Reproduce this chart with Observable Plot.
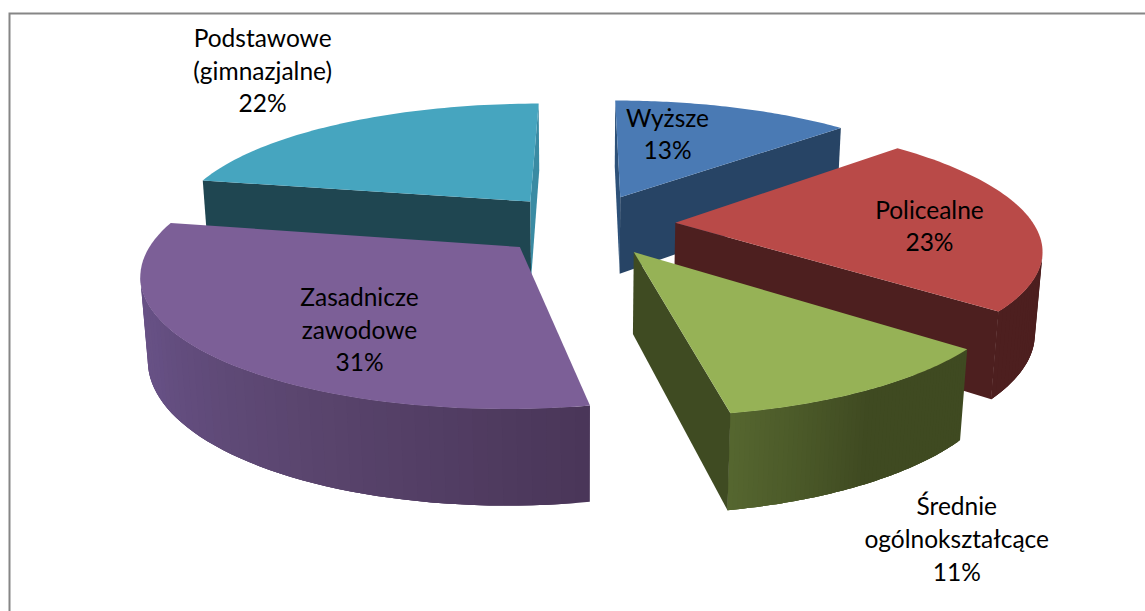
<!DOCTYPE html>
<html><head><meta charset="utf-8">
<script src="https://cdn.jsdelivr.net/npm/d3@7"></script>
<script src="https://cdn.jsdelivr.net/npm/@observablehq/plot@0.6"></script>
<style>html,body{margin:0;background:#fff;overflow:hidden}</style>
</head><body><div id="chart"></div>
<script>
// Data
const names = ["Wyższe", "Policealne", "Średnie\nogólnokształcące", "Zasadnicze\nzawodowe", "Podstawowe\n(gimnazjalne)"];
const shares = [13, 23, 11, 31, 22];

// Styles per slice
const topColors = ["#4a7ab4", "#b94a48", "#96b256", "#7c5f97", "#46a5bf"];
const startWallColors = ["#2d5179", "#4d1f1f", "#3f4b22", "#4a3659", "#1f4651"];
const endWallColors = ["#274465", "#4d1f1f", "#3f4b22", "#4a3659", "#3a8ba3"];
const rimRamps = [["#274465", "#274465"], ["#4d1f1f", "#4d1f1f"], ["#3f4a21", "#3f4a21", "#55662f"], ["#4a3659", "#5a456e", "#665084", "#6e5689"], ["#1f4651", "#1f4651"]];
const drawOrder = [4, 0, 1, 2, 3];

// Pie layout: camera and explosion of each slice, in units of the pie radius
const camera = {cx: 581.7, cy: 230.28, f: 1852.3, d: 5.119, tilt: 0.3546, depth: 0.239, rot: 0.002};
const explodeX = [0.1106, 0.2603, 0.1382, -0.1683, -0.1497];
const explodeY = [0.2798, 0.0638, -0.1645, -0.1259, 0.2427];
const labelRadius = [0.623, 0.705, 1.638, 0.681, 1.716];
const labelAngle = [0.263, 1.622, 2.781, -2.572, -0.623];

const total = d3.sum(shares);
const cum = d3.cumsum(shares);
const angleStart = shares.map((s, i) => (cum[i] - s) / total * 2 * Math.PI);
const angleEnd = shares.map((s, i) => cum[i] / total * 2 * Math.PI);

function project(i, r, a, z) {
  const {cx, cy, f, d, tilt, depth, rot} = camera;
  const X = r * Math.sin(a + rot) + explodeX[i];
  const Y = r * Math.cos(a + rot) + explodeY[i];
  const Z = -z * depth;
  const up = Y * Math.sin(tilt) + Z * Math.cos(tilt);
  const w = d + Y * Math.cos(tilt) - Z * Math.sin(tilt);
  return [cx + f * X / w, cy - f * up / w];
}
// facing test against the camera position
const camY = -camera.d * Math.cos(camera.tilt);
function faces(nx, ny, i, r, a) {
  const px = r * Math.sin(a + camera.rot) + explodeX[i];
  const py = r * Math.cos(a + camera.rot) + explodeY[i];
  return nx * (0 - px) + ny * (camY - py) > 0;
}

const rows = [];
let faceId = 0;
const addFace = (pts, color) => { faceId++; for (const [x, y] of pts) rows.push({face: faceId, x, y, color}); };
const STEPS = 60;
for (const i of drawOrder) {
  const a0 = angleStart[i], a1 = angleEnd[i];
  const at = k => a0 + (a1 - a0) * k / STEPS;
  const ramp = d3.piecewise(d3.interpolateRgb, rimRamps[i]);
  for (let k = 0; k < STEPS; k++) {
    const mid = (at(k) + at(k + 1)) / 2;
    if (faces(Math.sin(mid + camera.rot), Math.cos(mid + camera.rot), i, 1, mid)) {
      const last = Math.min(k + 3, STEPS);
      const span = d3.range(k, last + 1);
      addFace([...span.map(j => project(i, 1, at(j), 0)), ...span.reverse().map(j => project(i, 1, at(j), 1))], d3.color(ramp(k / (STEPS - 1))).formatHex());
    }
  }
  const ar = a0 + camera.rot, br = a1 + camera.rot;
  if (faces(-Math.cos(ar), Math.sin(ar), i, 0, a0))
    addFace([project(i, 0, 0, 0), project(i, 1, a0, 0), project(i, 1, a0, 1), project(i, 0, 0, 1)], startWallColors[i]);
  if (faces(Math.cos(br), -Math.sin(br), i, 0, a1))
    addFace([project(i, 0, 0, 0), project(i, 1, a1, 0), project(i, 1, a1, 1), project(i, 0, 0, 1)], endWallColors[i]);
  addFace([project(i, 0, 0, 0), ...d3.range(STEPS + 1).map(k => project(i, 1, at(k), 0))], topColors[i]);
}

const labels = names.map((name, i) => {
  const [x, y] = project(i, labelRadius[i], labelAngle[i], 0);
  return {text: `${name}\n${shares[i]}%`, x, y};
});

document.getElementById("chart").append(Plot.plot({
  width: 1145, height: 611, margin: 0, axis: null,
  style: {background: "#fff"},
  x: {domain: [0, 1145], range: [0, 1145]},
  y: {domain: [0, 611], range: [0, 611]},
  color: {type: "identity"},
  marks: [
    Plot.frame({stroke: "#868686", strokeWidth: 2, insetLeft: 9, insetTop: 13, insetRight: -6, insetBottom: -6}),
    Plot.line(rows, {x: "x", y: "y", z: "face", fill: "color", stroke: "none", curve: "linear"}),
    Plot.text(labels, {x: "x", y: "y", dy: -3, text: "text", fontFamily: "Lato", fontSize: 24.5, lineHeight: 1.33, fill: "#000", textAnchor: "middle"})
  ]
}));
</script></body></html>
